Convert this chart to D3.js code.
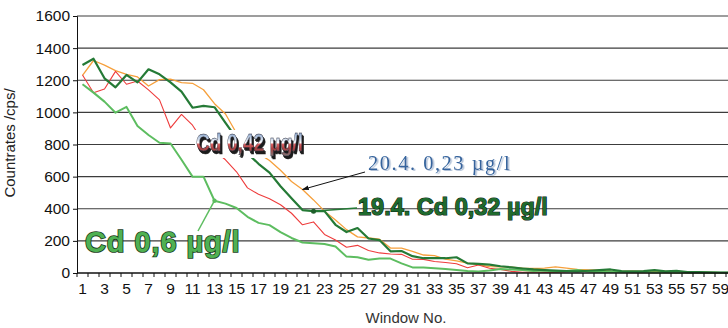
<!DOCTYPE html>
<html>
<head>
<meta charset="utf-8">
<script src="https://cdn.jsdelivr.net/npm/d3@7"></script>
<style>
  html, body { margin: 0; padding: 0; background: #fff; overflow: hidden; }
  svg { display: block; font-family: 'Liberation Sans', Arial, sans-serif; }
</style>
</head>
<body>
<div id="chart"></div>
<script>
// windows 1..60, labels on every odd window
const windows = d3.range(1, 61);
const xTickLabels = windows.filter((w) => w % 2 === 1);
const yTicks = [0, 200, 400, 600, 800, 1000, 1200, 1400, 1600];

// 19.4. Cd 0,32 µg/l (dark green)
const cd032 = [1295, 1334, 1212, 1156, 1233, 1187, 1268, 1237, 1187, 1129,
  1029, 1040, 1032, 935, 838, 745, 680, 625, 540, 465,
  392, 385, 385, 300, 255, 280, 215, 205, 135, 137,
  105, 92, 92, 92, 98, 60, 57, 52, 42, 35,
  28, 22, 18, 15, 12, 10, 14, 18, 22, 12,
  10, 12, 18, 10, 14, 6, 5, 4, 3, 2];

// 20.4. 0,23 µg/l (orange)
const cd023 = [1230, 1323, 1294, 1260, 1236, 1221, 1164, 1204, 1207, 1185,
  1181, 1141, 1054, 990, 870, 800, 745, 700, 640, 570,
  520, 455, 385, 330, 270, 225, 218, 210, 155, 155,
  135, 112, 108, 87, 75, 62, 52, 40, 38, 36,
  30, 28, 30, 38, 30, 22, 20, 18, 12, 10,
  12, 10, 8, 10, 6, 5, 4, 3, 2, 2];

// Cd 0,42 µg/l (red)
const cd042 = [1233, 1122, 1146, 1255, 1175, 1195, 1140, 1078, 903, 987,
  920, 815, 760, 705, 630, 530, 490, 462, 425, 372,
  300, 318, 240, 205, 160, 172, 140, 125, 118, 116,
  86, 85, 72, 65, 58, 33, 50, 30, 22, 10,
  5, 6, 4, 3, 8, 12, 10, 5, 4, 3,
  2, 3, 2, 2, 1, 1, 1, 0, 0, 0];

// Cd 0,6 µg/l (light green)
const cd06 = [1175, 1123, 1067, 998, 1034, 915, 859, 811, 806, 705,
  600, 600, 450, 432, 405, 350, 312, 298, 255, 218,
  190, 185, 180, 165, 102, 98, 82, 90, 90, 60,
  35, 35, 30, 25, 19, 12, 10, 15, 25, 22,
  18, 12, 15, 10, 12, 18, 10, 6, 8, 5,
  4, 6, 3, 3, 2, 2, 1, 1, 1, 1];

const series = [
  { name: 'orange', values: cd023, color: '#f6a03c', width: 1.3 },
  { name: 'red', values: cd042, color: '#ee3c3c', width: 1.1 },
  { name: 'light', values: cd06, color: '#5dbd60', width: 2 },
  { name: 'dark', values: cd032, color: '#257a36', width: 2.2 },
];

const W = 728;
const H = 328;
const plot = { left: 77, right: 737, top: 16, bottom: 273 };

const svg = d3.select('#chart')
  .append('svg')
  .attr('width', W)
  .attr('height', H);

const x = d3.scaleBand().domain(windows).range([plot.left, plot.right]);
const cx = (w) => x(w) + x.bandwidth() / 2;
const y = d3.scaleLinear().domain([0, 1600]).range([plot.bottom, plot.top]);

// horizontal grid
svg.append('g')
  .selectAll('line')
  .data(yTicks.filter((d) => d > 0))
  .join('line')
  .attr('x1', plot.left)
  .attr('x2', plot.right)
  .attr('y1', (d) => y(d))
  .attr('y2', (d) => y(d))
  .attr('stroke', '#3c3c3c')
  .attr('stroke-width', 1.1);

// data lines
const line = d3.line()
  .x((d, i) => cx(windows[i]))
  .y((d) => y(d));

svg.append('g')
  .selectAll('path')
  .data(series)
  .join('path')
  .attr('fill', 'none')
  .attr('stroke', (d) => d.color)
  .attr('stroke-width', (d) => d.width)
  .attr('stroke-linejoin', 'round')
  .attr('d', (d) => line(d.values));

// y axis
const yAxis = svg.append('g')
  .attr('transform', `translate(${plot.left},0)`)
  .call(d3.axisLeft(y).tickValues(yTicks).tickFormat(d3.format('d')).tickSize(4).tickPadding(3));
yAxis.selectAll('text').attr('font-size', 15.5).attr('fill', '#111').attr('font-family', null);
yAxis.selectAll('line, path').attr('stroke', '#111');

// x axis: ticks at band edges, labels at odd windows
const xAxis = svg.append('g')
  .attr('transform', `translate(0,${plot.bottom})`);
xAxis.append('line')
  .attr('x1', plot.left).attr('x2', plot.right)
  .attr('stroke', '#111').attr('stroke-width', 1.3);
xAxis.selectAll('.edge')
  .data(windows)
  .join('line')
  .attr('class', 'edge')
  .attr('x1', (d) => x(d)).attr('x2', (d) => x(d))
  .attr('y1', 0).attr('y2', 4)
  .attr('stroke', '#111');
xAxis.selectAll('text')
  .data(xTickLabels)
  .join('text')
  .attr('x', (d) => cx(d))
  .attr('y', 21)
  .attr('text-anchor', 'middle')
  .attr('font-size', 15.5)
  .attr('fill', '#111')
  .text((d) => d);

// axis titles
svg.append('text')
  .attr('transform', 'translate(15,143) rotate(-90)')
  .attr('text-anchor', 'middle')
  .attr('font-size', 15)
  .attr('fill', '#222')
  .text('Countrates /cps/');

svg.append('text')
  .attr('x', 406)
  .attr('y', 323)
  .attr('text-anchor', 'middle')
  .attr('font-size', 15)
  .attr('fill', '#333')
  .text('Window No.');

// annotations
const defs = svg.append('defs');
defs.append('marker')
  .attr('id', 'arrow')
  .attr('viewBox', '0 0 10 10')
  .attr('refX', 9).attr('refY', 5)
  .attr('markerWidth', 7).attr('markerHeight', 7)
  .attr('orient', 'auto')
  .append('path')
  .attr('d', 'M0,1.5L10,5L0,8.5Z')
  .attr('fill', '#111');

const chrome = defs.append('linearGradient')
  .attr('id', 'chrome')
  .attr('x1', 0).attr('y1', 0).attr('x2', 0).attr('y2', 1);
[[0, '#5f82b6'], [0.3, '#b4c6de'], [0.5, '#ffffff'], [0.56, '#d86060'],
  [0.72, '#a94040'], [1, '#7a7a7a']]
  .forEach(([o, c]) => chrome.append('stop').attr('offset', o).attr('stop-color', c));

// extruded shadow for the chrome label
const extrude = defs.append('filter')
  .attr('id', 'extrude')
  .attr('x', '-5%').attr('y', '-10%').attr('width', '115%').attr('height', '140%');
extrude.append('feOffset').attr('in', 'SourceAlpha').attr('dx', 1).attr('dy', 1.5).attr('result', 'o1');
extrude.append('feOffset').attr('in', 'SourceAlpha').attr('dx', 2).attr('dy', 3).attr('result', 'o2');
const em = extrude.append('feMerge').attr('result', 'depth');
em.append('feMergeNode').attr('in', 'o2');
em.append('feMergeNode').attr('in', 'o1');
extrude.append('feFlood').attr('flood-color', '#1c1c1c').attr('result', 'dark');
extrude.append('feComposite').attr('in', 'dark').attr('in2', 'depth').attr('operator', 'in').attr('result', 'shadow');
const em2 = extrude.append('feMerge');
em2.append('feMergeNode').attr('in', 'shadow');
em2.append('feMergeNode').attr('in', 'SourceGraphic');

// soft emboss shadow for the serif label
defs.append('filter')
  .attr('id', 'emboss')
  .append('feDropShadow')
  .attr('dx', 1.5).attr('dy', 1)
  .attr('stdDeviation', 0)
  .attr('flood-color', '#aebfd6');

// Cd 0,6 µg/l -> light green line at window 13
const p06 = [cx(13), y(cd06[12])];
svg.append('line')
  .attr('x1', 198).attr('y1', 231)
  .attr('x2', p06[0]).attr('y2', p06[1])
  .attr('stroke', '#5dbd60').attr('stroke-width', 1.5);
svg.append('circle')
  .attr('cx', p06[0]).attr('cy', p06[1]).attr('r', 2.2)
  .attr('fill', '#5dbd60');
svg.append('text')
  .attr('x', 85).attr('y', 252)
  .attr('font-size', 29).attr('font-weight', 'bold')
  .attr('letter-spacing', 0.9)
  .attr('fill', '#4fb153')
  .attr('stroke', '#1b3d1c').attr('stroke-width', 1.7)
  .attr('paint-order', 'stroke')
  .text('Cd 0,6 µg/l');

// 19.4. Cd 0,32 µg/l -> dark green line at window 22
const p032 = [cx(22), y(cd032[21])];
svg.append('line')
  .attr('x1', 357).attr('y1', 208)
  .attr('x2', p032[0]).attr('y2', p032[1])
  .attr('stroke', '#257a36').attr('stroke-width', 1.5);
svg.append('circle')
  .attr('cx', p032[0]).attr('cy', p032[1]).attr('r', 2.5)
  .attr('fill', '#1e5e2a');
svg.append('text')
  .attr('x', 358).attr('y', 215)
  .attr('font-size', 23.5).attr('font-weight', 'bold')
  .attr('fill', '#1f6b2e')
  .attr('stroke', '#0b2410').attr('stroke-width', 1.2)
  .attr('paint-order', 'stroke')
  .text('19.4. Cd 0,32 µg/l');

// 20.4. 0,23 µg/l -> orange line at window 21
const p023 = [cx(21), y(cd023[20])];
svg.append('line')
  .attr('x1', 365).attr('y1', 172)
  .attr('x2', p023[0]).attr('y2', p023[1])
  .attr('stroke', '#111').attr('stroke-width', 1)
  .attr('marker-end', 'url(#arrow)');
svg.append('text')
  .attr('x', 368).attr('y', 170)
  .attr('font-family', "'Liberation Serif', 'Times New Roman', serif")
  .attr('font-size', 20.5)
  .attr('letter-spacing', 1.5)
  .attr('fill', '#34649d')
  .attr('filter', 'url(#emboss)')
  .text('20.4. 0,23 µg/l');

// Cd 0,42 µg/l chrome label over a white patch
svg.append('rect')
  .attr('x', 195).attr('y', 130)
  .attr('width', 108).attr('height', 28)
  .attr('fill', '#fff');
svg.append('text')
  .attr('transform', 'translate(196,151) scale(0.8,1)')
  .attr('font-size', 24).attr('font-weight', 'bold')
  .attr('fill', 'url(#chrome)')
  .attr('stroke', '#2a2a3a').attr('stroke-width', 0.4)
  .attr('filter', 'url(#extrude)')
  .text('Cd 0,42 µg/l');
</script>
</body>
</html>
